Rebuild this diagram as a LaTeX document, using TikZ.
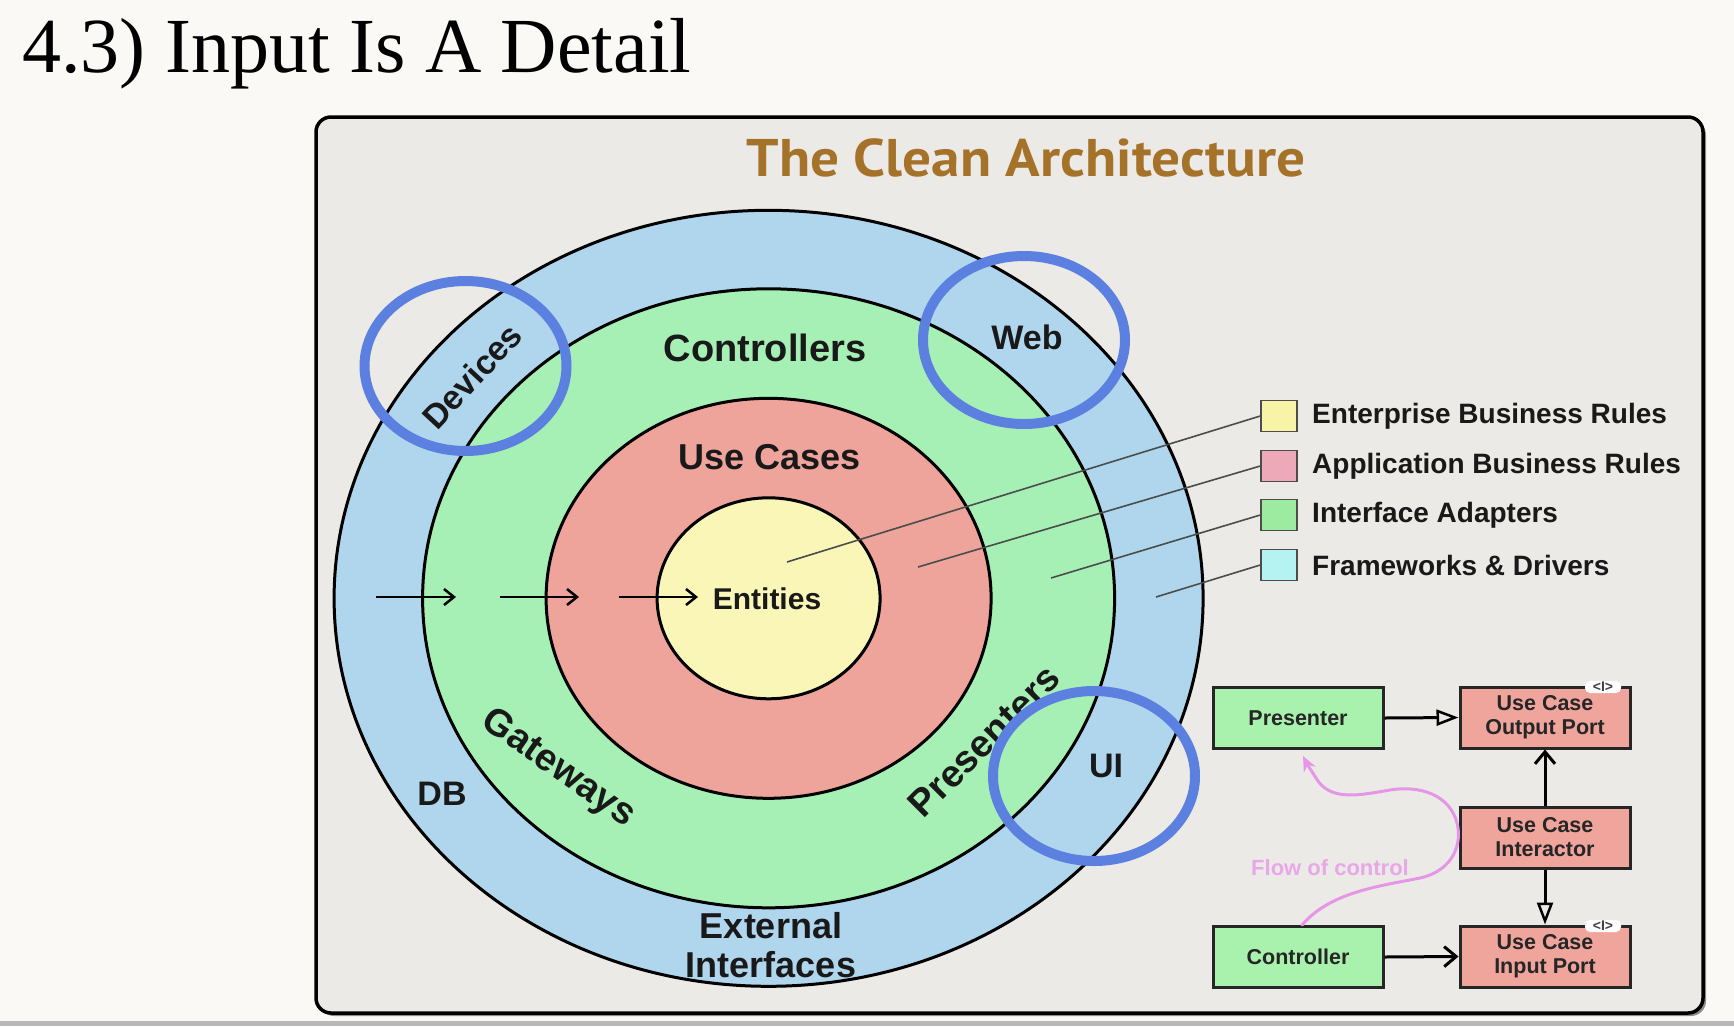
\documentclass[tikz,border=0pt]{standalone}
\usepackage{fontspec}
\setmainfont{Liberation Serif}
\setsansfont{Liberation Sans}
\newfontfamily\headfont[FakeStretch=1.08]{PT Sans}
\usetikzlibrary{shapes.geometric,arrows.meta}

\definecolor{pagebg}{HTML}{FAF9F6}
\definecolor{panelbg}{HTML}{ECEAE7}
\definecolor{ringblue}{HTML}{B0D6EE}
\definecolor{ringgreen}{HTML}{A6F0B6}
\definecolor{ringred}{HTML}{EEA39B}
\definecolor{ringyellow}{HTML}{FAF6B8}
\definecolor{hilite}{HTML}{5C80DF}
\definecolor{headbrown}{HTML}{A5722A}
\definecolor{flowpink}{HTML}{E596E6}
\definecolor{flowtext}{HTML}{E8A8E8}
\definecolor{keyyellow}{HTML}{F7F4A8}
\definecolor{keypink}{HTML}{EEA9B8}
\definecolor{keygreen}{HTML}{9DEBA0}
\definecolor{keycyan}{HTML}{B5F2F2}
\definecolor{boxgreen}{HTML}{A9F2AE}
\definecolor{boxred}{HTML}{EFA49C}
\definecolor{leader}{HTML}{4A4E4A}

\newcommand{\setfs}[1]{\fontsize{#1}{#1}\selectfont}

\begin{document}
\begin{tikzpicture}[x=1pt,y=-1pt,
  ring/.style={ellipse, draw=black, line width=3pt, inner sep=0pt},
  ringlabel/.style={font=\sffamily\bfseries\setfs{#1}, text=black!90, inner sep=0pt},
  ringlabel/.default=34,
  inward/.style={line width=2.5pt, -{Straight Barb[length=10pt,width=16pt,line width=2.5pt]}},
  keybox/.style={draw=black!70, line width=1.5pt, minimum width=36pt, minimum height=31pt, inner sep=0pt},
  keytext/.style={anchor=west, font=\sffamily\bfseries\setfs{28}, text=black!90, inner sep=0pt},
  keyline/.style={draw=leader, line width=1.6pt},
  umlbox/.style={draw=black!85, line width=3pt, minimum width=170pt, minimum height=61pt,
                 inner sep=0pt, align=center, font=\sffamily\bfseries\fontsize{21.5}{24}\selectfont, text=black!85},
  realize/.style={line width=3pt, -{Triangle[open, length=22pt, width=16pt, line width=2.5pt]}},
  uses/.style={line width=3pt, -{Straight Barb[length=12pt,width=20pt,line width=3pt]}},
  stereo/.style={fill=white, rounded corners=5pt, minimum width=36pt, minimum height=12pt,
                 inner xsep=2pt, inner ysep=0pt, font=\sffamily\bfseries\setfs{14}, text=black!75},
  hiliteloop/.style={draw=hilite, line width=10pt}
]
\useasboundingbox (0,0) rectangle (1734,1026);
\fill[pagebg] (0,0) rectangle (1734,1026);
\fill[black!28] (0,1021) rectangle (1734,1026);

% slide heading
\node[anchor=base west, font=\setfs{78}, inner sep=0pt] (slidetitle) at (22,72) {4.3) Input Is A Detail};

% panel with a soft drop shadow
\fill[black!45, rounded corners=15pt] (319,120) rectangle (1706,1016);
\draw[line width=3.5pt, rounded corners=15pt, fill=panelbg] (316,117) rectangle (1703,1013);
\node[font=\headfont\bfseries\setfs{53}, text=headbrown] (heading) at (1026,158) {The Clean Architecture};

% concentric layers
\coordinate (C) at (768.6,598.3);
\node[ring, fill=ringblue,   minimum width=869pt, minimum height=776pt] (frameworks) at (C) {};
\node[ring, fill=ringgreen,  minimum width=692pt, minimum height=619pt] (adapters)   at (C) {};
\node[ring, fill=ringred,    minimum width=445pt, minimum height=400pt] (usecases)   at (C) {};
\node[ring, fill=ringyellow, minimum width=223pt, minimum height=201pt] (entities)   at (C) {};

% layer labels
\node[ringlabel=38] (lblcontrollers) at (765,348) {Controllers};
\node[ringlabel=36] (lblusecases)    at (770,457) {Use Cases};
\node[ringlabel=30] (lblentities)    at (767,599) {Entities};
\node[ringlabel]    (lblweb)         at (1027,337) {Web};
\node[ringlabel, rotate=47]  (lbldevices) at (472,376) {Devices};
\node[ringlabel]    (lbldb)          at (442,794) {DB};
\node[ringlabel]    (lblui)          at (1106,766) {UI};
\node[ringlabel=38, rotate=-35] (lblgateways)   at (558,769) {Gateways};
\node[ringlabel=38, rotate=45]  (lblpresenters) at (984,741) {Presenters};
\node[align=center, font=\sffamily\bfseries\fontsize{36}{39}\selectfont, text=black!90, inner sep=0pt]
     (lblexternal) at (771,945) {External\\Interfaces};

% dependency arrows pointing inward
\coordinate (d1s) at (376,597); \coordinate (d1e) at (456,597);
\coordinate (d2s) at (500,597); \coordinate (d2e) at (579,597);
\coordinate (d3s) at (619,597); \coordinate (d3e) at (698,597);
\draw[inward] (d1s) -- (d1e);
\draw[inward] (d2s) -- (d2e);
\draw[inward] (d3s) -- (d3e);

% legend
\node[keybox, fill=keyyellow] (keyent) at (1279,416) {};
\node[keybox, fill=keypink]   (keyapp) at (1279,466) {};
\node[keybox, fill=keygreen]  (keyadp) at (1279,515) {};
\node[keybox, fill=keycyan]   (keyfw)  at (1279,565) {};
\node[keytext] (keyenttext) at (1312,416) {Enterprise Business Rules};
\node[keytext] (keyapptext) at (1312,466) {Application Business Rules};
\node[keytext] (keyadptext) at (1312,515) {Interface Adapters};
\node[keytext] (keyfwtext)  at (1312,565) {Frameworks \& Drivers};
\coordinate (k1) at (787,562);
\coordinate (k2) at (918,567);
\coordinate (k3) at (1051,578);
\coordinate (k4) at (1156,597);
\draw[keyline] (k1) -- (keyent.west);
\draw[keyline] (k2) -- (keyapp.west);
\draw[keyline] (k3) -- (keyadp.west);
\draw[keyline] (k4) -- (keyfw.west);

% flow of control sketch
\node[umlbox, fill=boxgreen] (presenter)  at (1298,718) {Presenter};
\node[umlbox, fill=boxred]   (outport)    at (1545,717.5) {Use Case\\Output Port};
\node[umlbox, fill=boxred]   (interactor) at (1545,837.5) {Use Case\\Interactor};
\node[umlbox, fill=boxgreen] (controller) at (1298,957) {Controller};
\node[umlbox, fill=boxred]   (inport)     at (1545,956.5) {Use Case\\Input Port};
\node[stereo] (outmark) at (1603,687) {<I>};
\node[stereo] (inmark)  at (1603,926) {<I>};

\draw[realize] (presenter.east) -- (outport.west);
\draw[uses] (interactor.north) -- (outport.south);
\draw[realize] (interactor.south) -- (inport.north);
\draw[uses] (controller.east) -- (inport.west);

\node[font=\sffamily\bfseries\setfs{22}, text=flowtext] (flowlabel) at (1330,868) {Flow of control};
\draw[flowpink, line width=3pt, line cap=round, -{Stealth[length=15pt,width=13pt]}]
  ([xshift=4pt]controller.north)
  .. controls (1330,892) and (1380,886) .. (1420,878)
  .. controls (1455,870) and (1462,842) .. (1457,823)
  .. controls (1450,795) and (1420,785) .. (1390,790)
  .. controls (1360,795) and (1330,802) .. (1316,778)
  .. controls (1311,770) and (1307,764) .. ([xshift=5pt,yshift=-6pt]presenter.south);

% highlighted input devices
\draw[hiliteloop] (465.5,366) ellipse [x radius=101, y radius=85];
\draw[hiliteloop] (1024,340)  ellipse [x radius=101, y radius=84];
\draw[hiliteloop] (1094,776)  ellipse [x radius=101, y radius=85];
\end{tikzpicture}
\end{document}
